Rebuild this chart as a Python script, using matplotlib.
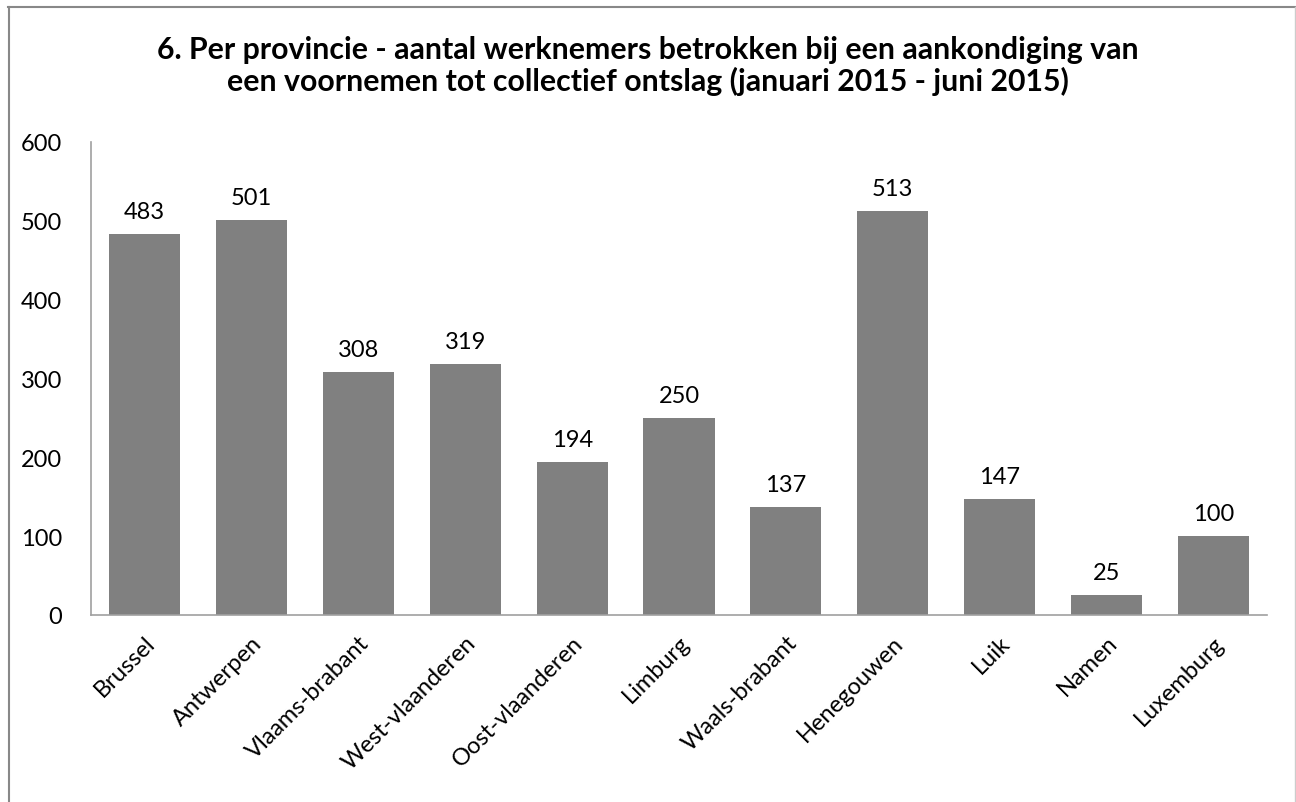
import matplotlib
matplotlib.use("Agg")
import matplotlib.pyplot as plt
from matplotlib.lines import Line2D

categories = ["Brussel", "Antwerpen", "Vlaams-brabant", "West-vlaanderen", "Oost-vlaanderen",
              "Limburg", "Waals-brabant", "Henegouwen", "Luik", "Namen", "Luxemburg"]
values = [483, 501, 308, 319, 194, 250, 137, 513, 147, 25, 100]
yticks = [0, 100, 200, 300, 400, 500, 600]
title = ("6. Per provincie - aantal werknemers betrokken bij een aankondiging van\n"
         "een voornemen tot collectief ontslag (januari 2015 - juni 2015)")

plt.rcParams['font.family'] = ['Lato', 'DejaVu Sans']

fig = plt.figure(figsize=(12.96, 8.03), dpi=100)
ax = fig.add_axes([91/1296, 1-616/803, (1267-91)/1296, (616-143)/803])

x = list(range(len(categories)))
bars = ax.bar(x, values, width=0.665, color="#808080", zorder=2)
for xi, v in zip(x, values):
    ax.text(xi, v + 15, str(v), ha="center", va="bottom", fontsize=17, color="black")

ax.set_xlim(-0.5, len(categories) - 0.5)
ax.set_ylim(0, 600)
ax.set_yticks(yticks)
ax.set_yticklabels([str(t) for t in yticks], fontsize=17)
ax.set_xticks(x)
ax.set_xticklabels(categories, rotation=45, ha="right", rotation_mode="anchor", fontsize=17)
ax.tick_params(axis="both", length=0)
ax.tick_params(axis="x", pad=12)
ax.tick_params(axis="y", pad=21)
for s in ["top", "right"]:
    ax.spines[s].set_visible(False)
for s in ["left", "bottom"]:
    ax.spines[s].set_color("#a0a0a0")
    ax.spines[s].set_linewidth(1.2)

fig.text(0.5, 1-66/803, title, ha="center", va="center", fontsize=21.8, fontweight="bold",
         linespacing=1.15)

# figure border
fig.add_artist(Line2D([8/1296, 1295/1296], [1-7.5/803, 1-7.5/803], color="#888888", lw=1.5))
fig.add_artist(Line2D([8.5/1296, 8.5/1296], [0, 1-7.5/803], color="#888888", lw=1.5))
fig.add_artist(Line2D([1295/1296, 1295/1296], [0, 1-7.5/803], color="#cccccc", lw=1.0))

fig.savefig("out.png", dpi=100)
